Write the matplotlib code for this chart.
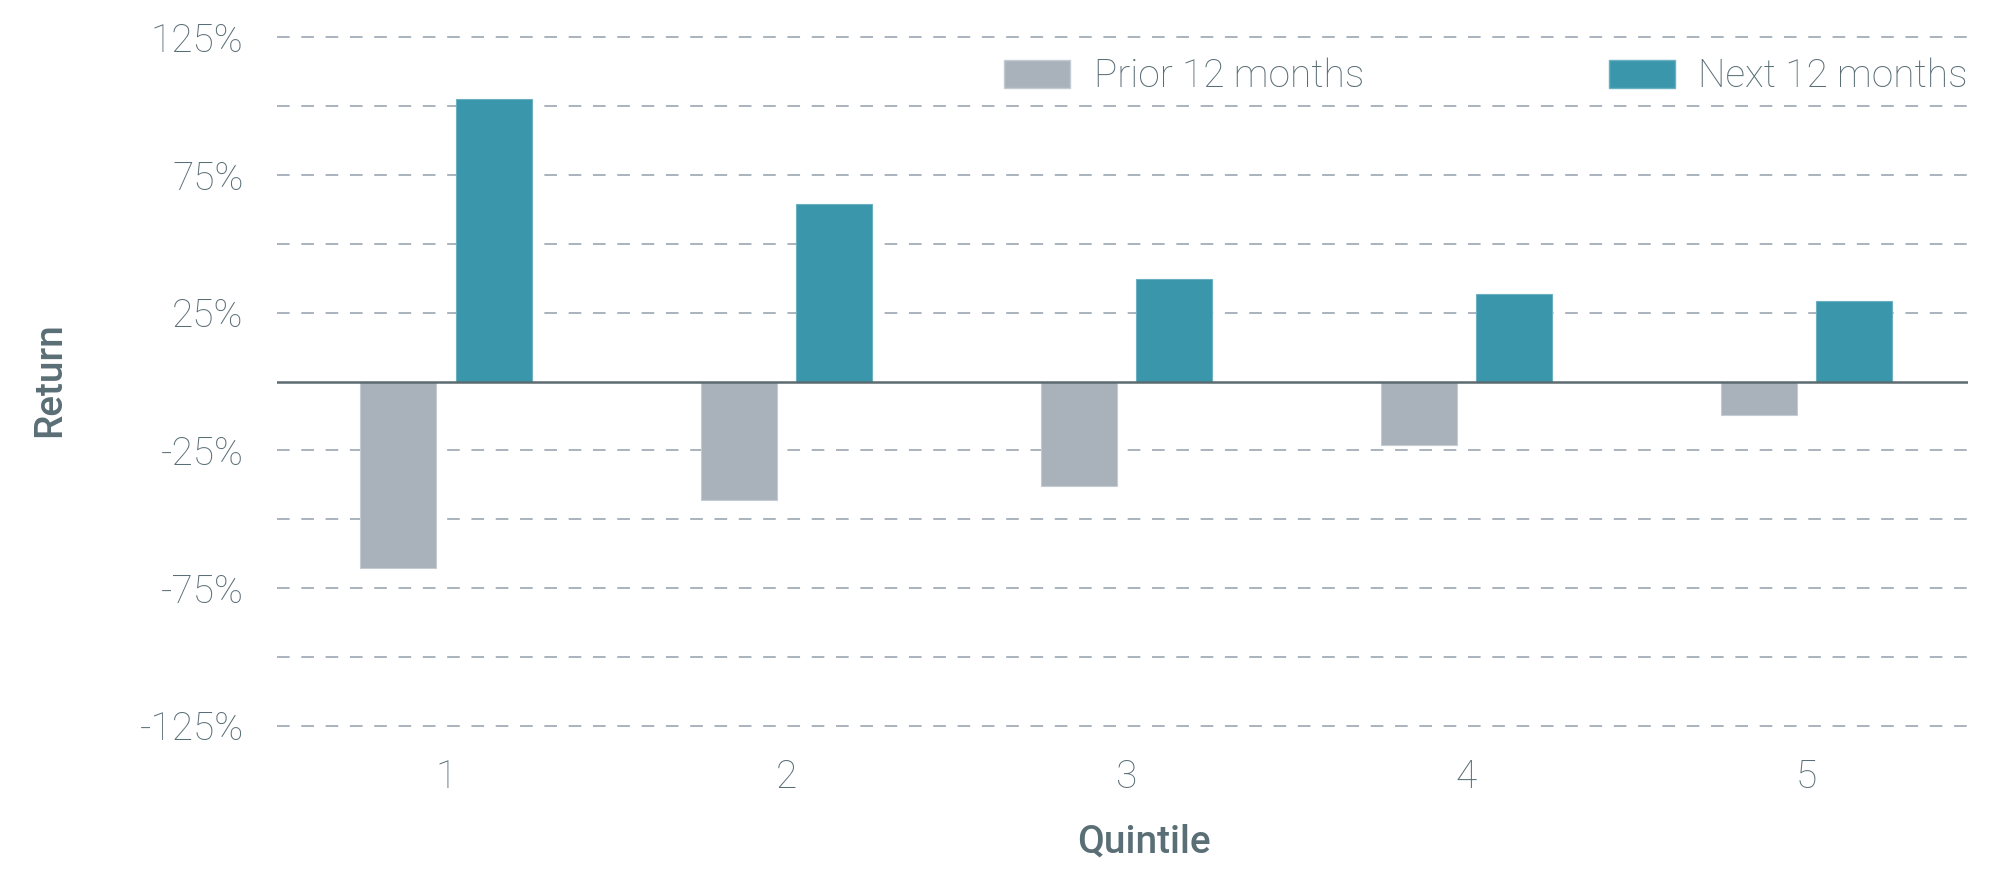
import matplotlib
matplotlib.use("Agg")
import matplotlib.pyplot as plt
import numpy as np
from matplotlib.patches import Patch

# ---- data ----
quintiles = ["1", "2", "3", "4", "5"]
prior_12m = [-67.6, -43.0, -38.0, -23.0, -12.0]
next_12m = [102.5, 64.3, 37.1, 31.8, 29.2]
series_names = ["Prior 12 months", "Next 12 months"]
ytick_vals = [-125, -75, -25, 25, 75, 125]
grid_vals = [-125, -100, -75, -50, -25, 25, 50, 75, 100, 125]

# ---- style ----
TEXT = "#5A6E76"
TEAL = "#3996AB"
GRAY = "#A9B2BB"
GRID = "#AAB2BC"
ZERO = "#5B6B70"
plt.rcParams["font.family"] = ["Roboto", "DejaVu Sans"]

W, H = 1997, 873
fig = plt.figure(figsize=(W / 100, H / 100), dpi=100)
ax = fig.add_axes([277 / W, 133.5 / H, (1968 - 277) / W, (849.5 - 133.5) / H])

x = np.arange(len(quintiles))
bw = 0.2235
off = 0.14

for g in grid_vals:
    ax.axhline(g, color=GRID, lw=1.4, ls=(0, (6.5, 6)), zorder=1)

ax.bar(x - off, prior_12m, width=bw, color=GRAY, edgecolor="#C4CBD2", linewidth=0.8, zorder=2)
ax.bar(x + off, next_12m, width=bw, color=TEAL, edgecolor="#6BB0C0", linewidth=0.8, zorder=2)
ax.axhline(0, color=ZERO, lw=1.8, zorder=3)

ax.set_xlim(-0.497, 4.475)
ax.set_ylim(-130, 130)
ax.set_xticks(x, quintiles)
ax.set_yticks(ytick_vals, [f"{v}%" for v in ytick_vals])
ax.tick_params(axis="both", length=0, colors=TEXT, labelsize=28)
ax.tick_params(axis="y", pad=24)
ax.tick_params(axis="x", pad=14)
for lab in ax.get_xticklabels() + ax.get_yticklabels():
    lab.set_fontweight("light")
for s in ax.spines.values():
    s.set_visible(False)

handles = [Patch(facecolor=GRAY, edgecolor="#C4CBD2", label=series_names[0]),
           Patch(facecolor=TEAL, edgecolor="#6BB0C0", label=series_names[1])]
leg = ax.legend(handles=handles, ncol=2, loc="upper right", bbox_to_anchor=(1.0, 0.952),
                frameon=False, handlelength=1.7, handleheight=0.72,
                handletextpad=0.6, columnspacing=6.3, borderaxespad=0, borderpad=0,
                prop={"family": ["Roboto", "DejaVu Sans"], "weight": "light", "size": 28})
for t in leg.get_texts():
    t.set_color(TEXT)

fig.text(50 / W, 1 - 380 / H, "Return", rotation=90, ha="center", va="center",
         color=TEXT, fontsize=28, fontweight="medium")
fig.text(1144 / W, 1 - 842 / H, "Quintile", ha="center", va="center",
         color=TEXT, fontsize=28, fontweight="medium")

fig.savefig("out.png", dpi=100)
